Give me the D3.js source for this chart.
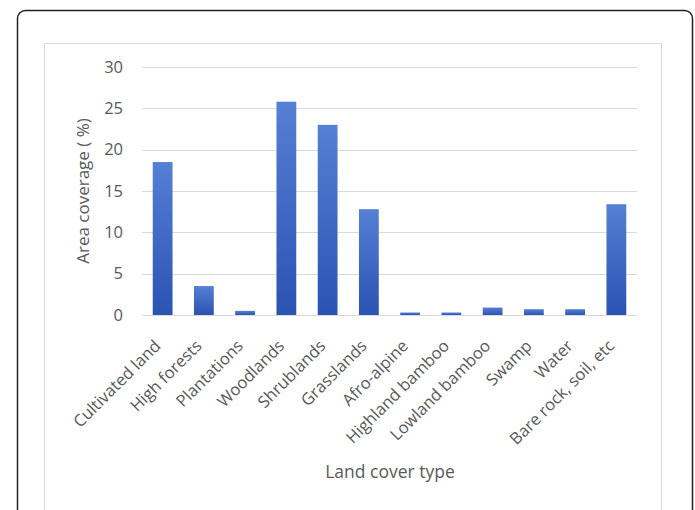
<!DOCTYPE html>
<html>
<head>
<meta charset="utf-8">
<script src="https://cdn.jsdelivr.net/npm/d3@7"></script>
<style>
  body { margin: 0; background: #fff; }
  text { font-family: "Open Sans", sans-serif; fill: #595959; }
</style>
</head>
<body>
<script>
var categories = ["Cultivated land", "High forests", "Plantations", "Woodlands", "Shrublands",
  "Grasslands", "Afro-alpine", "Highland bamboo", "Lowland bamboo", "Swamp", "Water",
  "Bare rock, soil, etc"];
var coverage = [18.5, 3.5, 0.5, 25.8, 23.0, 12.8, 0.3, 0.3, 0.9, 0.7, 0.7, 13.4];
var yTicks = [0, 5, 10, 15, 20, 25, 30];

var w = 695;
var h = 510;
var svg = d3.select("body")
  .append("svg")
  .attr("width", w)
  .attr("height", h);

// outer frame and chart area
svg.append("rect")
  .attr("x", 17.5).attr("y", 10.5)
  .attr("width", 675).attr("height", 520)
  .attr("rx", 8)
  .style("fill", "none").style("stroke", "#222").style("stroke-width", 1.5);
svg.append("rect")
  .attr("x", 44.5).attr("y", 43.5)
  .attr("width", 617).attr("height", 480)
  .style("fill", "none").style("stroke", "#d9d9d9").style("stroke-width", 1);

var grad = svg.append("defs").append("linearGradient")
  .attr("id", "barGrad").attr("x1", 0).attr("y1", 0).attr("x2", 0).attr("y2", 1);
grad.append("stop").attr("offset", "0%").attr("stop-color", "#5580d4");
grad.append("stop").attr("offset", "100%").attr("stop-color", "#2b53b3");

var x = d3.scaleBand()
  .domain(categories)
  .range([142, 637])
  .paddingInner(0.52)
  .paddingOuter(0.26);

var y = d3.scaleLinear()
  .domain([0, 30])
  .range([315, 67]);

// gridlines
svg.append("g")
  .selectAll("line")
  .data(yTicks)
  .enter()
  .append("line")
  .attr("x1", 142).attr("x2", 637)
  .attr("y1", function (d) { return Math.round(y(d)) + 0.5; })
  .attr("y2", function (d) { return Math.round(y(d)) + 0.5; })
  .style("stroke", "#d9d9d9");

var yAxis = svg.append("g")
  .attr("transform", "translate(123,0)")
  .call(d3.axisLeft(y).tickValues(yTicks).tickSize(0).tickPadding(0));
yAxis.select(".domain").remove();
yAxis.selectAll("text")
  .style("font-size", "16.5px")
  .style("font-family", "Open Sans, sans-serif")
  .attr("fill", "#595959");

svg.selectAll("rect.bar")
  .data(coverage)
  .enter()
  .append("rect")
  .attr("class", "bar")
  .attr("x", function (d, i) { return x(categories[i]); })
  .attr("y", function (d) { return y(d); })
  .attr("width", x.bandwidth())
  .attr("height", function (d) { return y(0) - y(d); })
  .style("fill", "url(#barGrad)");

var xAxis = svg.append("g")
  .attr("transform", "translate(0,315)")
  .call(d3.axisBottom(x).tickSize(0).tickPadding(0));
xAxis.select(".domain").remove();
xAxis.selectAll("text")
  .style("font-size", "16.5px")
  .style("font-family", "Open Sans, sans-serif")
  .attr("fill", "#595959")
  .attr("text-anchor", "end")
  .attr("dy", "0")
  .attr("transform", "translate(-1,32) rotate(-45)");

svg.append("text")
  .attr("x", 390).attr("y", 478)
  .attr("text-anchor", "middle")
  .style("font-size", "17.5px")
  .text("Land cover type");

svg.append("text")
  .attr("transform", "translate(89,191) rotate(-90)")
  .attr("text-anchor", "middle")
  .style("font-size", "17px")
  .text("Area coverage ( %)");
</script>
</body>
</html>
